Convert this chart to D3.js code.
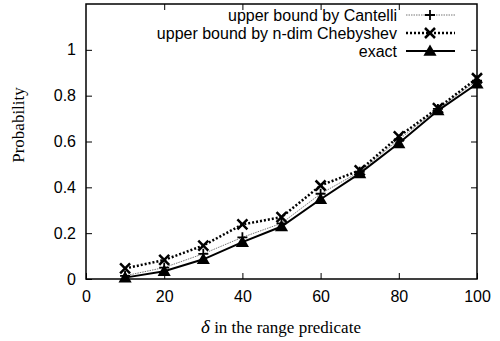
<!DOCTYPE html>
<html>
<head>
<meta charset="utf-8">
<script src="https://cdn.jsdelivr.net/npm/d3@7"></script>
<style>
  body { margin: 0; background: #fff; }
  svg { display: block; }
  .tick text { font-family: "Liberation Sans", Arial, sans-serif; font-size: 16px; fill: #000; }
</style>
</head>
<body>
<svg id="canvas" width="500" height="341"></svg>
<script>
// delta values on the x axis
const deltas = [10, 20, 30, 40, 50, 60, 70, 80, 90, 100];

// probabilities
const cantelli = [0.014, 0.05, 0.11, 0.182, 0.243, 0.372, 0.468, 0.608, 0.742, 0.866];
const chebyshev = [0.046, 0.083, 0.146, 0.238, 0.27, 0.408, 0.474, 0.622, 0.746, 0.876];
const exact = [0.006, 0.034, 0.086, 0.161, 0.229, 0.348, 0.461, 0.592, 0.735, 0.852];

const seriesNames = ["upper bound by Cantelli", "upper bound by n-dim Chebyshev", "exact"];

const xTicks = [0, 20, 40, 60, 80, 100];
const yTicks = [0, 0.2, 0.4, 0.6, 0.8, 1];

let margin = {left: 86, right: 23, top: 4, bottom: 62};
let width = 500 - margin.left - margin.right;
let height = 341 - margin.top - margin.bottom;

let svg = d3.select("#canvas");
let g = svg.append("g").attr("transform", `translate(${margin.left},${margin.top})`);

let x = d3.scaleLinear().domain([0, 100]).range([0, width]);
let y = d3.scaleLinear().domain([0, 1.2]).range([height, 0]);

// axes, ticks pointing inward
g.append("g")
    .attr("transform", `translate(0,${height})`)
    .call(d3.axisBottom(x).tickValues(xTicks).tickSizeInner(-6).tickSizeOuter(0).tickPadding(12))
    .call(ax => ax.select(".domain").remove());
g.append("g")
    .call(d3.axisLeft(y).tickValues(yTicks).tickFormat(d3.format("~g")).tickSizeInner(-6).tickSizeOuter(0).tickPadding(10))
    .call(ax => ax.select(".domain").remove());
// mirrored ticks on top and right
g.append("g")
    .call(d3.axisTop(x).tickValues(xTicks.slice(1, -1)).tickSizeInner(-6).tickSizeOuter(0).tickFormat(""))
    .call(ax => ax.select(".domain").remove());
g.append("g")
    .attr("transform", `translate(${width},0)`)
    .call(d3.axisRight(y).tickValues(yTicks.slice(1)).tickSizeInner(-6).tickSizeOuter(0).tickFormat(""))
    .call(ax => ax.select(".domain").remove());

g.selectAll(".tick line").attr("stroke", "#000").attr("stroke-width", 1);

g.append("rect")
    .attr("width", width)
    .attr("height", height)
    .attr("fill", "none")
    .attr("stroke", "#000")
    .attr("stroke-width", 1.5);

// series styles
let styles = [
    {values: cantelli, stroke: "#777", width: 1, dash: "1.5,1", marker: "plus"},
    {values: chebyshev, stroke: "#000", width: 2.5, dash: "2,2", marker: "cross"},
    {values: exact, stroke: "#000", width: 2, dash: null, marker: "tri"}
];

let line = d3.line().x(d => x(d[0])).y(d => y(d[1]));

let drawMarker = (sel, type, cx, cy) => {
    if (type === "plus") {
        sel.append("path")
            .attr("d", `M${cx - 5},${cy}H${cx + 5}M${cx},${cy - 5}V${cy + 5}`)
            .attr("stroke", "#000").attr("stroke-width", 1.8);
    } else if (type === "cross") {
        sel.append("path")
            .attr("d", `M${cx - 5},${cy - 5}L${cx + 5},${cy + 5}M${cx - 5},${cy + 5}L${cx + 5},${cy - 5}`)
            .attr("stroke", "#000").attr("stroke-width", 2.5);
    } else {
        sel.append("path")
            .attr("d", d3.symbol(d3.symbolTriangle, 75)())
            .attr("transform", `translate(${cx},${cy + 1})`)
            .attr("fill", "#000");
    }
};

styles.forEach((s) => {
    let pts = deltas.map((d, i) => [d, s.values[i]]);
    g.append("path")
        .datum(pts)
        .attr("d", line)
        .attr("fill", "none")
        .attr("stroke", s.stroke)
        .attr("stroke-width", s.width)
        .attr("stroke-dasharray", s.dash);
    let mg = g.append("g");
    pts.forEach((p) => drawMarker(mg, s.marker, x(p[0]), y(p[1])));
});

// legend
let legend = svg.append("g");
styles.forEach((s, i) => {
    let ly = 15 + i * 18;
    legend.append("text")
        .attr("x", 397)
        .attr("y", ly)
        .attr("dy", "0.35em")
        .attr("text-anchor", "end")
        .style("font-family", "Liberation Sans, Arial, sans-serif")
        .style("font-size", "16px")
        .text(seriesNames[i]);
    legend.append("line")
        .attr("x1", 406).attr("x2", 455)
        .attr("y1", ly).attr("y2", ly)
        .attr("stroke", s.stroke)
        .attr("stroke-width", s.width)
        .attr("stroke-dasharray", s.dash);
    drawMarker(legend, s.marker, 430, ly);
});

// axis titles
svg.append("text")
    .attr("transform", "translate(24,125) rotate(-90)")
    .attr("text-anchor", "middle")
    .style("font-family", "Liberation Serif, Times New Roman, serif")
    .style("font-size", "17px")
    .text("Probability");

let xt = svg.append("text")
    .attr("x", 281)
    .attr("y", 333)
    .attr("text-anchor", "middle")
    .style("font-family", "Liberation Serif, Times New Roman, serif")
    .style("font-size", "17px");
xt.append("tspan").style("font-style", "italic").style("font-size", "19px").text("δ");
xt.append("tspan").text(" in the range predicate");
</script>
</body>
</html>
